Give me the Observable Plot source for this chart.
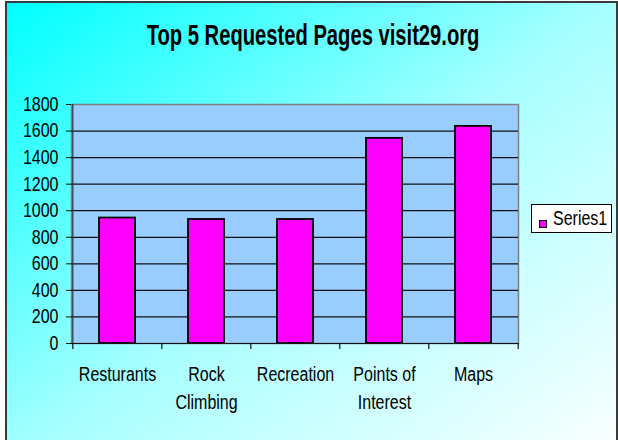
<!DOCTYPE html>
<html>
<head>
<meta charset="utf-8">
<script src="https://cdn.jsdelivr.net/npm/d3@7"></script>
<script src="https://cdn.jsdelivr.net/npm/@observablehq/plot@0.6"></script>
<style>
  html, body { margin: 0; padding: 0; background: #fff; }
  #page { position: relative; width: 618px; height: 440px; overflow: hidden; background: #fff; }
  #bg { position: absolute; left: 5px; top: 1px; width: 609px; height: 470px;
        border: 2px solid #3a3a3a;
        background: linear-gradient(to bottom right, #00FFFF 0%, #A8FFFF 50%, #FFFFFF 100%); }
  #content { position: absolute; left: 0; top: 0; width: 618px; }
  #title { height: 80px; box-sizing: border-box; padding-top: 21px; padding-left: 9px; text-align: center; }
  #title span { display: inline-block; font-family: "Liberation Sans", Arial, sans-serif; font-weight: bold;
        font-size: 29px; line-height: 29px; color: #000; transform: scaleX(0.696); transform-origin: center; white-space: nowrap; }
  #legend { position: absolute; left: 531px; top: 204px; width: 79px; height: 27px; background: #fff;
        border: 1px solid #000; font-family: "Liberation Sans", Arial, sans-serif;
        font-size: 20px; color: #000; }
  #legend .sw { position: absolute; left: 7px; top: 15px; width: 6px; height: 6px; background: #FF00FF; border: 1px solid #000; }
  #legend .lb { position: absolute; left: 21px; top: 2px; line-height: 22px; white-space: nowrap;
        transform: scaleX(0.8); transform-origin: left center; }
</style>
</head>
<body>
<div id="page">
  <div id="bg"></div>
  <div id="content">
    <div id="title"><span id="titleText"></span></div>
    <div id="plot"></div>
  </div>
  <div id="legend"><div class="sw"></div><div class="lb" id="legendText"></div></div>
</div>
<script>
// ---- data ----
const titleText = "Top 5 Requested Pages visit29.org";
const categories = ["Resturants", "Rock Climbing", "Recreation", "Points of Interest", "Maps"];
const tickLabels = ["Resturants", "Rock\nClimbing", "Recreation", "Points of\nInterest", "Maps"];
const values = [945, 934, 934, 1545, 1635];
const yTicks = [0, 200, 400, 600, 800, 1000, 1200, 1400, 1600, 1800];
const seriesName = "Series1";

const data = categories.map((c, i) => ({category: c, value: values[i]}));

document.getElementById("titleText").textContent = titleText;
document.getElementById("legendText").textContent = seriesName;

const W = 618, H = 360, mL = 71, mR = 100, mT = 24, mB = 97;
const step = (W - mL - mR) / categories.length;
const font = "'Liberation Sans', Arial, sans-serif";

const chart = Plot.plot({
  width: W, height: H,
  marginLeft: mL, marginRight: mR, marginTop: mT, marginBottom: mB,
  style: {background: "transparent", fontFamily: font, fontSize: "20px", color: "#000", overflow: "visible"},
  x: {domain: categories, paddingInner: 0.6, paddingOuter: 0.3, axis: null, label: null},
  y: {domain: [0, 1800], axis: null, label: null},
  marks: [
    Plot.frame({fill: "#99CCFF", stroke: "#7f7f7f", strokeWidth: 1.5}),
    Plot.ruleY(yTicks.slice(1, -1), {stroke: "#111", strokeWidth: 1.2}),
    Plot.barY(data, {x: "category", y: "value", fill: "#FF00FF", stroke: "#000", strokeWidth: 1.8}),
    Plot.ruleY([0], {stroke: "#111", strokeWidth: 1.2}),
    Plot.ruleX([categories[0]], {x: d => d, y1: 0, y2: 1800, dx: -step / 2, stroke: "#333", strokeWidth: 1.2}),
    Plot.ruleX(categories, {x: d => d, y1: 0, y2: 0, insetBottom: -6, dx: -step / 2, stroke: "#111", strokeWidth: 1.2}),
    Plot.ruleX([categories[categories.length - 1]], {x: d => d, y1: 0, y2: 0, insetBottom: -6, dx: step / 2, stroke: "#111", strokeWidth: 1.2}),
    Plot.axisY({ticks: yTicks, tickSize: 5, tickPadding: 8, tickFormat: d => String(d), label: null, fontSize: 20, stroke: "#111"}),
    Plot.axisX({tickSize: 0, tickPadding: 18, tickFormat: d => tickLabels[categories.indexOf(d)], label: null, fontSize: 20, lineHeight: 1.4})
  ]
});

// Condense axis label glyphs horizontally (narrow-font look) around each label's anchor
d3.select(chart).selectAll("text").each(function () {
  const t = d3.select(this);
  const tr = t.attr("transform") || "";
  t.attr("transform", `${tr} scale(0.8,1)`.trim());
});

document.getElementById("plot").appendChild(chart);
</script>
</body>
</html>
